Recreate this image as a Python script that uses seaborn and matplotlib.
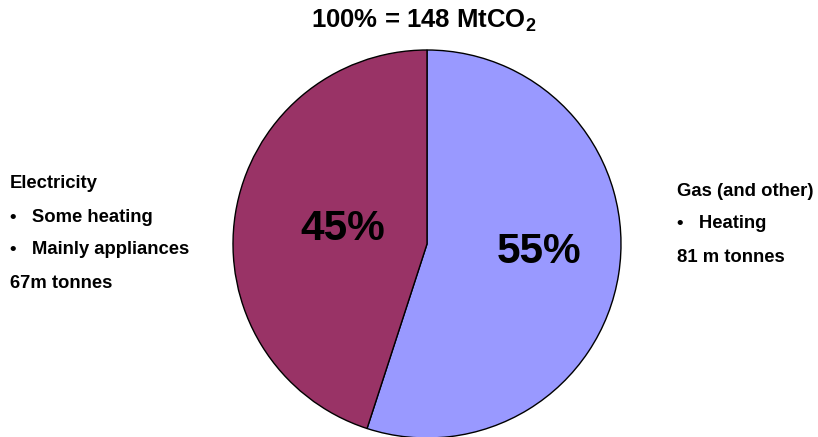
import matplotlib
matplotlib.use("Agg")
import matplotlib.pyplot as plt
import seaborn as sns

# data
segments = ['Gas (and other)', 'Electricity']
shares = [55, 45]
colours = ['#9999FF', '#993366']
pct_labels = ['55%', '45%']
gas_notes = ['Gas (and other)', '•   Heating', '81 m tonnes']
elec_notes = ['Electricity', '•   Some heating', '•   Mainly appliances', '67m tonnes']
title_text = '100% = 148 MtCO$_\\mathregular{2}$'

sns.set_style('white')
plt.rcParams['font.family'] = ['Liberation Sans', 'DejaVu Sans']
plt.rcParams['text.color'] = 'black'

fig = plt.figure(figsize=(8.18, 4.37), dpi=100)
ax = fig.add_axes([0, 0, 1, 1])

ax.pie(shares, colors=colours, startangle=90, counterclock=False,
       center=(427, 193), radius=194, frame=True,
       wedgeprops=dict(edgecolor='black', linewidth=1))
ax.set_xlim(0, 818)
ax.set_ylim(0, 437)
ax.set_aspect('equal')
ax.axis('off')

# percentage labels
ax.text(539, 437 - 252, pct_labels[0], fontsize=30.5, fontweight='bold',
        ha='center', va='center', color='black')
ax.text(343, 437 - 229, pct_labels[1], fontsize=30.5, fontweight='bold',
        ha='center', va='center', color='black')

fig.text(424 / 818, 1 - 21 / 437, title_text, fontsize=18.5, fontweight='bold',
         ha='center', va='center', color='black')

for i, line in enumerate(elec_notes):
    y = [184, 218, 250, 284][i]
    fig.text(10 / 818, 1 - y / 437, line, fontsize=13.3, fontweight='bold',
             ha='left', va='center', color='black')

for i, line in enumerate(gas_notes):
    y = [191, 224, 257][i]
    fig.text(677 / 818, 1 - y / 437, line, fontsize=13.3, fontweight='bold',
             ha='left', va='center', color='black')

fig.savefig('out.png', dpi=100)
